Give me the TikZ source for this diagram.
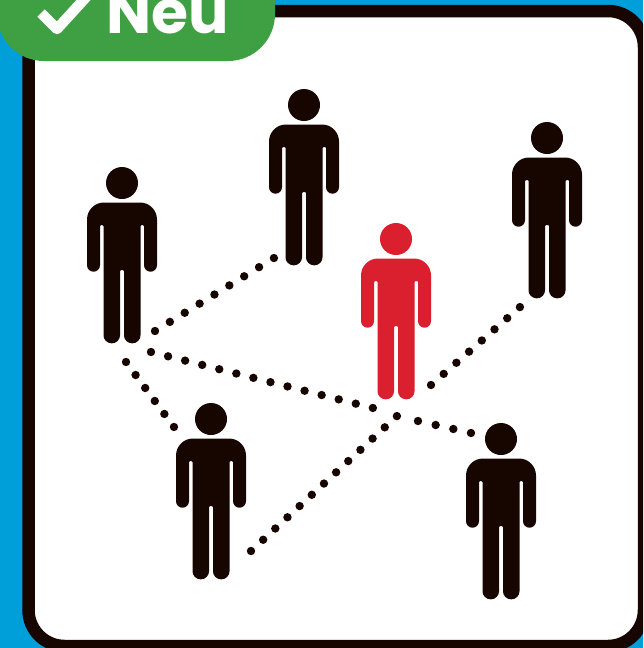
\documentclass[tikz,border=0pt]{standalone}
\usepackage{fontspec}
\setsansfont{Poppins}
\definecolor{skyblue}{HTML}{009FDA}
\definecolor{ink}{HTML}{170500}
\definecolor{alarm}{HTML}{DA1F2E}
\definecolor{badge}{HTML}{3FA043}
\begin{document}
\begin{tikzpicture}[
  x=1pt,y=-1pt,
  frame/.style={draw=ink, fill=white, line width=12.5pt, rounded corners=36pt},
  dotline/.style={draw=ink, line cap=round, line width=8.4pt, dash pattern=on 0pt off #1pt},
  person/.pic={
    \fill[#1] (0,0) circle (16pt);
    \fill[#1] (-35,60) [rounded corners=17pt] -- (-35,19.5) -- (35,19.5) -- (35,60)
      [rounded corners=6.5pt] -- (35,88.7) -- (22,88.7)
      [rounded corners=1pt] -- (22,42) -- (18.5,42)
      [rounded corners=8pt] -- (18.5,160.3) -- (2,160.3)
      [rounded corners=1pt] -- (2,87) -- (-2,87)
      [rounded corners=8pt] -- (-2,160.3) -- (-18.5,160.3)
      [rounded corners=1pt] -- (-18.5,42) -- (-22,42)
      [rounded corners=6.5pt] -- (-22,88.7) -- (-35,88.7) -- cycle;
  }]
\useasboundingbox (0,0) rectangle (643,648);
\clip (0,0) rectangle (643,648);
\fill[skyblue] (0,0) rectangle (643,648);
\draw[frame] (28.5,11) rectangle (644,646);
% people
\foreach \n/\x/\y/\c in {left/122/183/ink,top/304/105/ink,centre/396/239/alarm,right/547/138/ink,lower/211/419/ink,far/501/439/ink}
  \pic (\n) at (\x,\y) {person=\c};
% ends of the dotted links
\coordinate (a1) at (155,331);
\coordinate (a2) at (274,258);
\coordinate (b1) at (151,352);
\coordinate (b2) at (373,408);
\coordinate (c1) at (418,421);
\coordinate (c2) at (471,433);
\coordinate (d1) at (126,362);
\coordinate (d2) at (174,427);
\coordinate (e1) at (251,551);
\coordinate (e2) at (397,416);
\coordinate (f1) at (431,385);
\coordinate (f2) at (520,307);
\foreach \p/\q/\g in {a1/a2/17.44,b1/b2/17.6,c1/c2/18.1,d1/d2/16.15,e1/e2/16.56,f1/f2/16.89}
  \draw[dotline=\g] (\p) -- (\q);
% badge
\fill[badge, rounded corners=47pt] (-3,-60) rectangle (275,61);
\coordinate (t1) at (41,13);
\coordinate (t2) at (57,29);
\coordinate (t3) at (88,-5);
\draw[white, line width=10.5pt, line join=round] (t1) -- (t2) -- (t3);
\node[anchor=base west, inner sep=0pt, text=white, font=\sffamily\bfseries\fontsize{60}{60}\selectfont] (neu) at (106,33) {Neu};
\end{tikzpicture}
\end{document}
